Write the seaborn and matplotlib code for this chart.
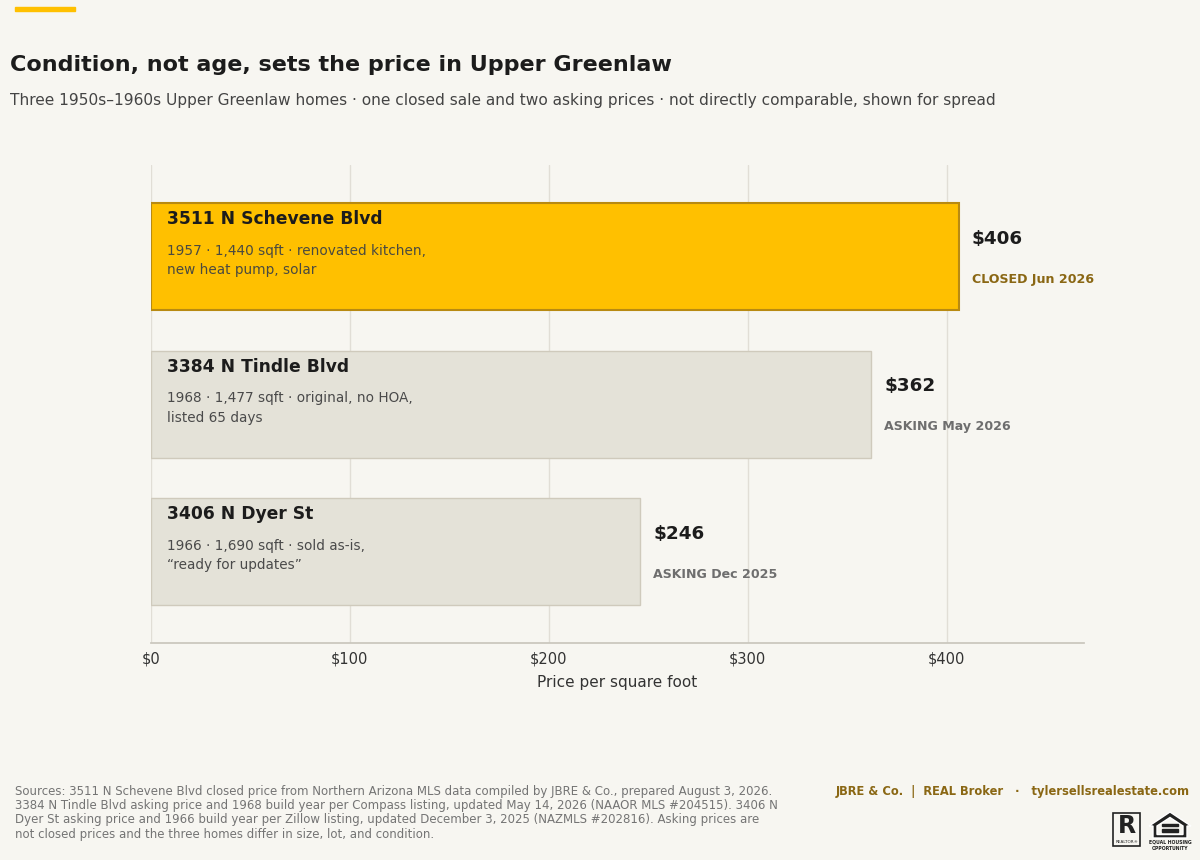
import matplotlib
matplotlib.use("Agg")
import matplotlib.pyplot as plt
import matplotlib.patches as mpatches
import seaborn as sns
import pandas as pd

# data
addresses = ["3511 N Schevene Blvd", "3384 N Tindle Blvd", "3406 N Dyer St"]
price_sqft = [406, 362, 246]
status = ["CLOSED", "ASKING", "ASKING"]
dates = ["Jun 2026", "May 2026", "Dec 2025"]
details = [
    "1957 · 1,440 sqft · renovated kitchen,\nnew heat pump, solar",
    "1968 · 1,477 sqft · original, no HOA,\nlisted 65 days",
    "1966 · 1,690 sqft · sold as-is,\n\u201cready for updates\u201d",
]
ticks = [0, 100, 200, 300, 400]

BG = "#f7f6f1"
GOLD = "#ffc000"
GOLD_EDGE = "#b88a12"
GREY = "#e4e2d8"
GREY_EDGE = "#cfcabc"
DARK = "#1c1c1c"

df = pd.DataFrame({"address": addresses, "price": price_sqft, "status": status})

sns.set_theme(style="white")
plt.rcParams["font.family"] = ["DejaVu Sans"]

fig = plt.figure(figsize=(12, 8.6), dpi=100, facecolor=BG)
ax = fig.add_axes([0.1258, 0.2523, 0.7775, 0.5558])
ax.set_facecolor(BG)

for t in ticks:
    ax.axvline(t, color="#e1ded6", lw=1, zorder=0)

sns.barplot(data=df, x="price", y="address", hue="status",
            palette={"CLOSED": GOLD, "ASKING": GREY}, dodge=False, saturation=1,
            width=0.725, legend=False, ax=ax, zorder=2)

for bar, st in zip(ax.patches, status):
    bar.set_edgecolor(GOLD_EDGE if st == "CLOSED" else GREY_EDGE)
    bar.set_linewidth(1.5 if st == "CLOSED" else 1.0)

ax.set_xlim(0, 469)
ax.set_ylim(2.62, -0.62)
ax.set_yticks([])
ax.set_ylabel("")
ax.set_xticks(ticks)
ax.set_xticklabels([f"${t}" for t in ticks], fontsize=10.5, color="#333333")
ax.tick_params(axis="x", length=4, color="#c9c6bd", pad=2)
ax.set_xlabel("Price per square foot", fontsize=11, color="#333333", labelpad=6)
for s in ["top", "right", "left"]:
    ax.spines[s].set_visible(False)
ax.spines["bottom"].set_color("#c9c6bd")

for i, (name, p, st, d, det) in enumerate(zip(addresses, price_sqft, status, dates, details)):
    top = i - 0.725 / 2
    ax.text(8, top + 0.11, name, fontsize=12.3, fontweight="bold", color=DARK,
            va="center", ha="left", zorder=3)
    ax.text(8, top + 0.275, det, fontsize=9.8, color="#4a4a40" if st == "CLOSED" else "#4a4a4a",
            va="top", ha="left", linespacing=1.5, zorder=3)
    ax.text(p + 6.5, i - 0.12, f"${p}", fontsize=13.2, fontweight="bold", color=DARK,
            va="center", ha="left")
    ax.text(p + 6.5, i + 0.155, f"{st} {d}", fontsize=9.1, fontweight="bold",
            color="#8a6714" if st == "CLOSED" else "#6e6e6e", va="center", ha="left")

# accent bar
fig.patches.append(mpatches.Rectangle((15 / 1200, 1 - 11 / 860), 60 / 1200, 4 / 860,
                                      transform=fig.transFigure, color=GOLD))

fig.text(10 / 1200, 1 - 65 / 860, "Condition, not age, sets the price in Upper Greenlaw",
         fontsize=16, fontweight="bold", color=DARK, va="center", ha="left")
fig.text(10 / 1200, 1 - 100 / 860,
         "Three 1950s\u20131960s Upper Greenlaw homes · one closed sale and two asking prices · "
         "not directly comparable, shown for spread",
         fontsize=11.1, color="#444444", va="center", ha="left")

sources = ("Sources: 3511 N Schevene Blvd closed price from Northern Arizona MLS data compiled by JBRE & Co., prepared August 3, 2026.\n"
           "3384 N Tindle Blvd asking price and 1968 build year per Compass listing, updated May 14, 2026 (NAAOR MLS #204515). 3406 N\n"
           "Dyer St asking price and 1966 build year per Zillow listing, updated December 3, 2025 (NAZMLS #202816). Asking prices are\n"
           "not closed prices and the three homes differ in size, lot, and condition.")
fig.text(15 / 1200, 1 - 785 / 860, sources, fontsize=8.45, color="#747474",
         va="top", ha="left", linespacing=1.12)

fig.text(1190 / 1200, 1 - 791 / 860,
         "JBRE & Co.  |  REAL Broker   ·   tylersellsrealestate.com",
         fontsize=8.3, fontweight="bold", color="#8a6714", va="center", ha="right")


def fx(px):
    return px / 1200


def fy(py):
    return 1 - py / 860


# realtor mark
fig.patches.append(mpatches.Rectangle((fx(1113), fy(846)), 27 / 1200, 33 / 860,
                                      transform=fig.transFigure, fill=False,
                                      edgecolor="#222222", lw=1.2))
fig.text(fx(1126.5), fy(826), "R", fontsize=17, fontweight="bold", color="#222222",
         ha="center", va="center")
fig.text(fx(1126.5), fy(842), "REALTOR®", fontsize=3, color="#222222",
         ha="center", va="center")

# equal housing mark
outer = [(1149, 826), (1170, 812), (1191, 826), (1187, 826), (1187, 838),
         (1153, 838), (1153, 826)]
inner = [(1157, 826), (1170, 817.5), (1183, 826), (1183, 834.5), (1157, 834.5)]
fig.patches.append(mpatches.Polygon([(fx(a), fy(b)) for a, b in outer], closed=True,
                                    transform=fig.transFigure, facecolor="#222222"))
fig.patches.append(mpatches.Polygon([(fx(a), fy(b)) for a, b in inner], closed=True,
                                    transform=fig.transFigure, facecolor=BG))
for yy in (823.5, 829):
    fig.patches.append(mpatches.Rectangle((fx(1162), fy(yy + 2.5)), 16 / 1200, 2.5 / 860,
                                          transform=fig.transFigure, color="#222222"))
fig.text(fx(1170), fy(842.5), "EQUAL HOUSING", fontsize=3.3, fontweight="bold",
         color="#222222", ha="center", va="center")
fig.text(fx(1170), fy(848), "OPPORTUNITY", fontsize=3.3, fontweight="bold",
         color="#222222", ha="center", va="center")

fig.savefig("out.png", dpi=100, facecolor=BG)
